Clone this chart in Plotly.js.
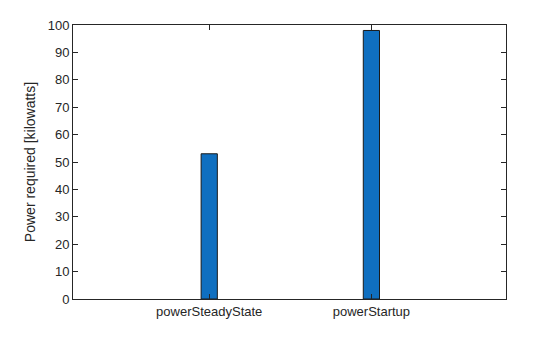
<!DOCTYPE html>
<html><head><meta charset="utf-8">
<script src="https://cdn.plot.ly/plotly-3.0.1.min.js"></script>
<style>html,body{margin:0;padding:0;background:#fff}#c{width:560px;height:337px}</style>
</head><body><div id="c"></div>
<script>
const categories = ["powerSteadyState", "powerStartup"];
const values = [53, 98];
const yTicks = [0,10,20,30,40,50,60,70,80,90,100];

const axisFont = {family: "Liberation Sans, Arial, sans-serif", size: 13, color: "#262626"};
Plotly.newPlot("c", [{
  type: "bar",
  x: categories,
  y: values,
  width: 0.1,
  marker: {color: "#0f6fc0", line: {color: "#1a1a1a", width: 1}},
  hoverinfo: "skip"
}], {
  width: 560, height: 337,
  margin: {l: 73, r: 54, t: 25, b: 38},
  paper_bgcolor: "#fff", plot_bgcolor: "#fff",
  showlegend: false,
  xaxis: {
    type: "category", range: [-0.84, 1.83],
    showline: true, mirror: "allticks", linecolor: "#262626", linewidth: 1,
    ticks: "inside", ticklen: 5, tickcolor: "#262626",
    showgrid: false, zeroline: false, tickfont: axisFont
  },
  yaxis: {
    range: [0, 100], tickvals: yTicks,
    showline: true, mirror: "allticks", linecolor: "#262626", linewidth: 1,
    ticks: "inside", ticklen: 5, tickcolor: "#262626",
    showgrid: false, zeroline: false, tickfont: axisFont,
    title: {text: "Power required [kilowatts]", font: {family: "Liberation Sans, Arial, sans-serif", size: 14, color: "#262626"}, standoff: 8}
  }
}, {displayModeBar: false, staticPlot: true});
</script></body></html>
